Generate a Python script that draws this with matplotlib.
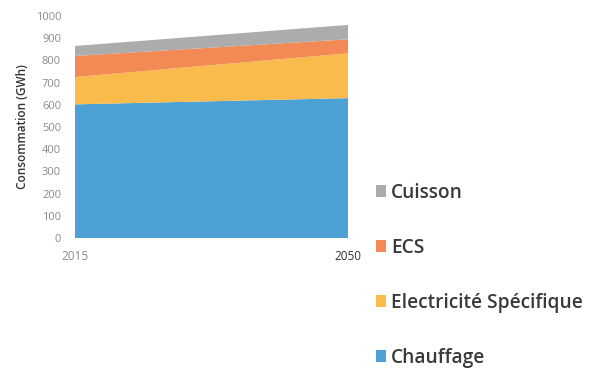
import matplotlib
matplotlib.use("Agg")
import matplotlib.pyplot as plt
from matplotlib.patches import Patch

years = [2015, 2050]
chauffage = [602, 630]
electricite = [123, 202]
ecs = [95, 63]
cuisson = [45, 65]

labels = ["Chauffage", "Electricité Spécifique", "ECS", "Cuisson"]
colors = ["#4da1d5", "#f9bb4c", "#f38a55", "#acacac"]

plt.rcParams["font.family"] = ["Open Sans", "DejaVu Sans"]

fig = plt.figure(figsize=(5.92, 3.71), dpi=100)
ax = fig.add_axes([75 / 592, 1 - 238 / 371, (348 - 75) / 592, (238 - 16) / 371])

ax.stackplot(years, chauffage, electricite, ecs, cuisson, colors=colors, linewidth=0)

ax.set_xlim(2015, 2050)
ax.set_ylim(0, 1000)
ax.set_yticks(range(0, 1001, 100))
ax.set_xticks(years)
ax.tick_params(axis="y", length=0, labelsize=8, colors="#8a8a8a", pad=10)
ax.tick_params(axis="x", length=0, labelsize=8.5, pad=9)
xt = ax.get_xticklabels()
xt[0].set_color("#8a8a8a")
xt[1].set_color("#333333")
for s in ax.spines.values():
    s.set_visible(False)

ax.set_ylabel("Consommation (GWh)", fontsize=8.5, fontweight="semibold", color="#333333", labelpad=5)

handles = [Patch(facecolor=c, edgecolor="none") for c in colors]
leg = fig.legend(handles[::-1], labels[::-1], loc="upper left",
                 bbox_to_anchor=(368 / 592, 1 - 175 / 371), frameon=False,
                 fontsize=13.8, labelspacing=1.83, handlelength=0.55, handleheight=0.55,
                 handletextpad=0.25, borderaxespad=0)
for t in leg.get_texts():
    t.set_fontweight("semibold")
    t.set_color("#3a3a3a")

fig.savefig("out.png", dpi=100, facecolor="white")
